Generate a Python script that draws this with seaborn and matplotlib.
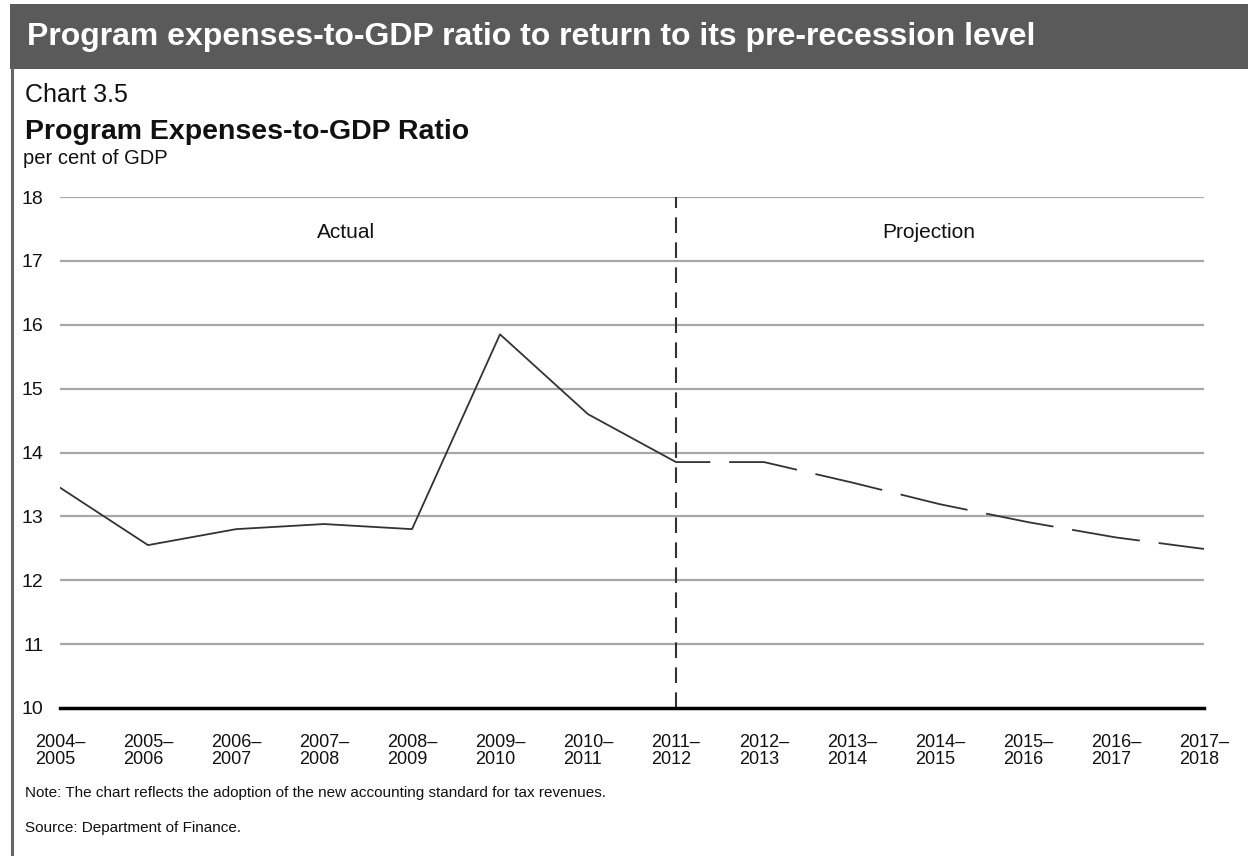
import matplotlib
matplotlib.use("Agg")
import matplotlib.pyplot as plt
import seaborn as sns
import pandas as pd
from matplotlib.patches import Rectangle
from matplotlib.lines import Line2D

years = ["2004–\n2005", "2005–\n2006", "2006–\n2007", "2007–\n2008", "2008–\n2009",
         "2009–\n2010", "2010–\n2011", "2011–\n2012", "2012–\n2013", "2013–\n2014",
         "2014–\n2015", "2015–\n2016", "2016–\n2017", "2017–\n2018"]
actual = [13.45, 12.55, 12.8, 12.88, 12.8, 15.85, 14.6, 13.85]
projection = [13.85, 13.85, 13.53, 13.19, 12.91, 12.67, 12.49]
yticks = [10, 11, 12, 13, 14, 15, 16, 17, 18]

sns.set_style("white")
plt.rcParams['font.family'] = ['Liberation Sans', 'DejaVu Sans']

W, H = 1248, 856
fig = plt.figure(figsize=(W / 100, H / 100), dpi=100)

# header band
fig.add_artist(Rectangle((10 / W, 1 - 69 / H), 1 - 10 / W, 65 / H, transform=fig.transFigure,
                         facecolor="#5a5a5a", edgecolor="none", zorder=0))
# left border
fig.add_artist(Line2D([11.5 / W, 11.5 / W], [0, 1 - 69 / H], transform=fig.transFigure,
                      color="#666666", lw=2.2))

TXT = "#111111"
fig.text(27 / W, 1 - 37 / H, "Program expenses-to-GDP ratio to return to its pre-recession level",
         color="white", fontsize=23, fontweight="bold", va="center", ha="left")
fig.text(25 / W, 1 - 95 / H, "Chart 3.5", fontsize=18, va="center", ha="left", color=TXT)
fig.text(25 / W, 1 - 132 / H, "Program Expenses-to-GDP Ratio", fontsize=20.5, fontweight="bold",
         va="center", ha="left", color=TXT)
fig.text(23 / W, 1 - 159 / H, "per cent of GDP", fontsize=14.5, va="center", ha="left", color=TXT)
fig.text(25 / W, 1 - 793 / H, "Note: The chart reflects the adoption of the new accounting standard for tax revenues.",
         fontsize=11, va="center", ha="left", color=TXT)
fig.text(25 / W, 1 - 828 / H, "Source: Department of Finance.",
         fontsize=11, va="center", ha="left", color=TXT)

left, right, top, bottom = 60, 1204, 197, 708
ax = fig.add_axes([left / W, 1 - bottom / H, (right - left) / W, (bottom - top) / H])

x_act = list(range(len(actual)))
x_proj = list(range(len(actual) - 1, len(actual) - 1 + len(projection)))
df_a = pd.DataFrame({"x": x_act, "y": actual})
df_p = pd.DataFrame({"x": x_proj, "y": projection})

for t in yticks[1:]:
    ax.axhline(t, color="#a8a8a8", lw=1.6, zorder=1)

sns.lineplot(data=df_a, x="x", y="y", ax=ax, color="#333333", lw=1.3, zorder=3)
sns.lineplot(data=df_p, x="x", y="y", ax=ax, color="#333333", lw=1.3, zorder=3)
ax.lines[-1].set_linestyle((19, (38, 10.5)))
ax.axvline(len(actual) - 1, color="#333333", lw=1.5, linestyle=(0, (7.5, 4.5)), zorder=4)

ax.set_xlim(0, len(years) - 1)
ax.set_ylim(10, 18)
ax.set_xticks(range(len(years)))
ax.set_xticklabels(years, fontsize=13, linespacing=1.0, multialignment="left")
ax.set_yticks(yticks)
ax.set_yticklabels([str(t) for t in yticks], fontsize=14)
ax.set_xlabel("")
ax.set_ylabel("")
for s in ["top", "right", "left"]:
    ax.spines[s].set_visible(False)
ax.spines["bottom"].set_color("black")
ax.spines["bottom"].set_linewidth(2.5)
ax.spines["bottom"].set_zorder(5)
ax.tick_params(axis="x", length=5, width=1, color="#aaaaaa", pad=14, labelcolor=TXT)
ax.tick_params(axis="y", length=0, pad=12, labelcolor=TXT)
ax.patch.set_alpha(0)

ax.text(3.25, 17.44, "Actual", fontsize=15, ha="center", va="center", color=TXT)
ax.text(9.87, 17.44, "Projection", fontsize=15, ha="center", va="center", color=TXT)

fig.savefig("out.png", dpi=100)
